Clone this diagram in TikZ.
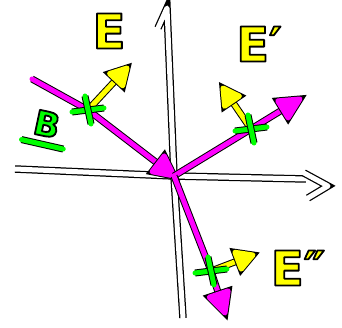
\documentclass[tikz,border=0pt]{standalone}
\usepackage{fontspec}
\setsansfont{DejaVu Sans}
\usetikzlibrary{calc}
\definecolor{mg}{RGB}{255,0,255}
\definecolor{yl}{RGB}{255,255,0}
\definecolor{gr}{RGB}{0,255,0}
\newcommand\vtip[4]{\filldraw[vec=#3,fill=#3](#2)--($(#1)!#4!90:(#2)$)--($(#1)!#4!-90:(#2)$)--cycle;}
\newcommand\outl[1]{\special{pdf:literal 2 Tr 0 G 1.8 w 1 j}#1\special{pdf:literal 0 Tr}}
\begin{document}
\begin{tikzpicture}[x=1pt,y=-1pt,
ax/.style={draw=white,line width=5pt,line cap=round,line join=round,preaction={draw=black,line width=7.5pt}},
vec/.style={draw=#1,line width=5pt,line cap=round,line join=round,preaction={draw=black,line width=7pt}},
lbl/.style={text=#1,font=\sffamily\bfseries\fontsize{48}{48}\selectfont,inner sep=0}]
\useasboundingbox(0,0)rectangle(342,328);
% axes
\coordinate(O)at(174,176);
\coordinate(xl)at(15,169);\coordinate(xr)at(306,179);\coordinate(xt)at(328,186);
\coordinate(yb)at(183,318);\coordinate(yt)at(167,8);
\draw[ax](xl)--(O)--(xr);\draw[ax]($(xt)+(-24,-13)$)--(xt)--($(xt)+(-20,12)$);
\draw[ax](yb)--(O)--(yt)--($(yt)+(-9,20)$);
% vectors
\coordinate(a1)at(32,79);\coordinate(a2)at(300,99);\coordinate(a3)at(225,313);
\coordinate(c1)at(88,110);\coordinate(c2)at(251,129);\coordinate(c3)at(211,271);
\foreach \s/\m/\e/\t in {a1/c1/O/t1,O/c2/a2/t2,O/c3/a3/t3}{
\coordinate(\t)at($(\e)!20pt!(\m)$);
\draw[vec=mg](\s)--(\m)--(\t);\vtip{\t}{\e}{mg}{10pt}}
\coordinate(y1)at(127,68);\coordinate(y2)at(223,88);\coordinate(y3)at(253,255);
\foreach \c/\y in {c1/y1,c2/y2,c3/y3}{
\coordinate(u\y)at($(\y)!16pt!(\c)$);
\draw[vec=yl](\c)--(u\y);\vtip{u\y}{\y}{yl}{9pt}}
\foreach \c in {c1,c2,c3}{\draw[vec=gr]($(\c)+(-16,2)$)--($(\c)+(16,-2)$);\draw[vec=gr]($(\c)+(-3,-14)$)--($(\c)+(3,14)$);}
% labels
\node[lbl=yl](e1)at(109,31){\outl{E}};
\node[lbl=yl](e2)at(259,44){\outl{E′}};
\node[lbl=yl](e3)at(298,268){\outl{E″}};
\node[lbl=gr,font=\sffamily\bfseries\fontsize{34}{34}\selectfont,rotate=-12](b)at(47,124){\outl{B}};
\draw[vec=gr]($(b.south west)+(-10,6)$)--($(b.south east)+(6,10)$);
\end{tikzpicture}
\end{document}
